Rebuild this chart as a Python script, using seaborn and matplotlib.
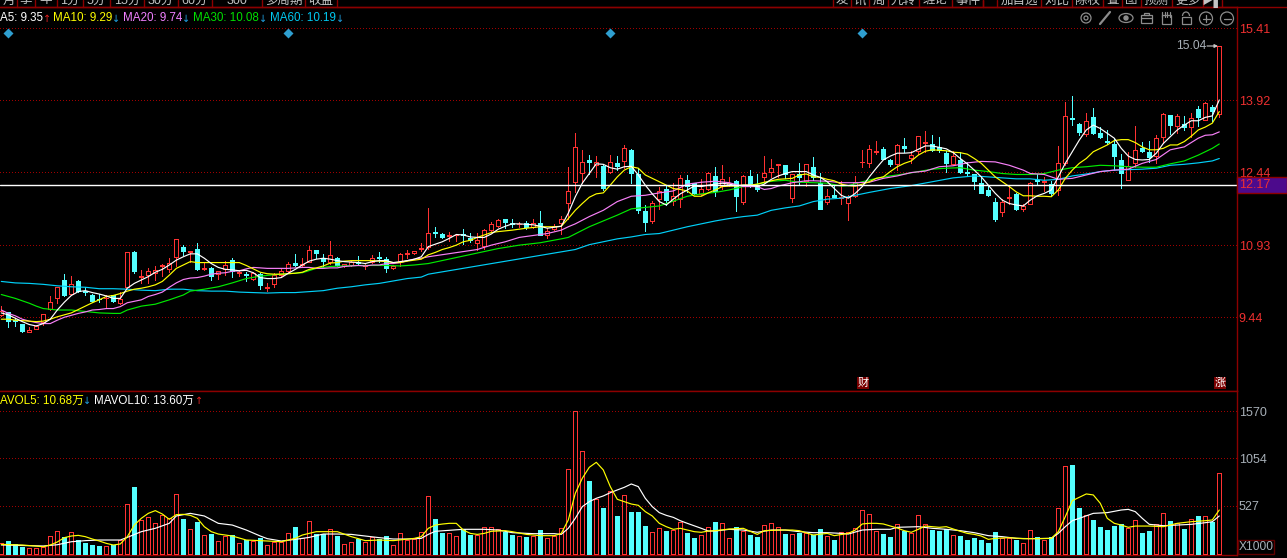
import numpy as np
import matplotlib
matplotlib.use("Agg")
import matplotlib.pyplot as plt
from matplotlib.patches import Rectangle, Circle, Ellipse, Arc
import seaborn as sns

opens = [9.49,9.54,9.37,9.30,9.14,9.20,9.35,9.61,9.83,10.22,
9.93,10.18,9.98,9.90,9.82,9.83,9.89,9.74,10.06,10.79,
10.28,10.31,10.36,10.50,10.43,10.68,10.90,10.79,10.86,10.44,
10.46,10.33,10.43,10.62,10.35,10.33,10.23,10.33,10.04,10.13,
10.31,10.40,10.56,10.52,10.59,10.82,10.67,10.58,10.67,10.50,
10.53,10.57,10.49,10.59,10.67,10.64,10.45,10.60,10.75,10.76,
10.85,10.90,11.19,11.15,11.11,11.13,11.17,11.08,10.98,10.92,
11.24,11.33,11.47,11.38,11.36,11.38,11.31,11.39,11.14,11.26,
11.39,11.81,12.24,12.43,12.68,12.58,12.57,12.45,12.62,12.67,
12.90,12.41,11.63,11.43,11.89,12.09,11.85,11.89,12.27,12.21,
11.99,12.10,12.36,12.15,12.17,12.25,11.83,12.36,12.16,12.34,
12.44,12.58,12.58,11.91,12.40,12.26,12.54,12.21,11.83,11.96,
11.90,11.81,11.95,12.64,12.63,12.85,12.92,12.69,12.60,12.97,
12.74,12.87,13.04,13.01,12.95,12.83,12.60,12.69,12.44,12.39,
12.22,12.07,11.83,11.61,11.90,11.99,11.67,11.79,12.27,12.24,
12.19,12.07,12.62,13.55,13.43,13.23,13.57,13.24,13.09,13.03,
12.69,12.28,12.63,12.94,12.85,12.77,13.16,13.61,13.40,13.44,
13.37,13.74,13.52,13.78,13.63]
closes = [9.57,9.37,9.36,9.16,9.18,9.26,9.50,9.75,10.07,9.90,
10.12,9.98,9.96,9.78,9.81,9.84,9.78,9.81,10.78,10.40,
10.29,10.40,10.42,10.51,10.57,11.05,10.81,10.80,10.44,10.45,
10.30,10.39,10.51,10.39,10.38,10.32,10.35,10.11,10.06,10.31,
10.39,10.55,10.53,10.54,10.84,10.77,10.61,10.72,10.52,10.54,
10.58,10.56,10.50,10.67,10.66,10.46,10.50,10.75,10.76,10.80,
10.88,11.19,11.18,11.10,11.13,11.14,11.13,11.03,11.03,11.24,
11.36,11.45,11.41,11.37,11.37,11.30,11.38,11.13,11.23,11.32,
11.46,12.05,12.95,12.65,12.65,12.64,12.12,12.64,12.57,12.93,
12.43,11.65,11.41,11.81,12.05,11.86,11.94,12.31,12.16,12.01,
12.10,12.43,12.05,12.29,12.21,11.94,12.36,12.17,12.09,12.43,
12.52,12.60,12.39,12.39,12.33,12.60,12.33,11.68,11.94,11.92,
11.92,11.92,12.24,12.65,12.91,12.87,12.71,12.61,12.99,12.94,
12.80,13.18,13.05,12.90,12.90,12.63,12.78,12.45,12.43,12.26,
12.01,11.97,11.47,11.83,11.92,11.67,11.74,12.22,12.26,12.25,
12.01,12.62,13.59,13.54,13.27,13.49,13.25,13.17,13.07,12.77,
12.43,12.56,12.89,12.88,12.75,13.14,13.63,13.42,13.59,13.38,
13.55,13.58,13.86,13.70,15.04]
highs = [9.67,9.55,9.42,9.31,9.24,9.28,9.50,9.88,10.07,10.33,
10.29,10.21,10.07,9.93,9.93,9.90,9.90,9.97,10.78,10.81,
10.42,10.45,10.50,10.55,10.66,11.05,10.93,10.80,10.97,10.59,
10.47,10.40,10.60,10.66,10.40,10.38,10.38,10.35,10.14,10.35,
10.43,10.59,10.75,10.66,10.91,10.84,10.75,11.02,10.69,10.55,
10.61,10.71,10.55,10.73,10.78,10.68,10.53,10.76,10.82,10.81,
10.97,11.69,11.30,11.19,11.21,11.14,11.26,11.19,11.19,11.26,
11.41,11.46,11.48,11.47,11.41,11.43,11.48,11.63,11.28,11.37,
11.53,12.55,13.24,12.90,12.79,12.77,12.59,12.79,12.77,13.00,
12.91,12.52,11.76,11.84,12.14,12.16,12.21,12.38,12.38,12.22,
12.29,12.45,12.55,12.59,12.33,12.27,12.38,12.48,12.40,12.77,
12.71,12.60,12.58,12.41,12.63,12.60,12.76,12.43,12.10,12.17,
12.26,11.96,12.36,12.90,13.00,13.08,12.95,12.72,13.01,13.14,
12.88,13.19,13.29,13.20,13.17,12.88,12.88,12.86,12.65,12.41,
12.36,12.17,11.90,11.88,12.17,12.01,11.78,12.24,12.41,12.34,
12.26,12.98,13.89,14.02,13.45,13.67,13.76,13.38,13.31,13.14,
12.81,12.86,13.39,13.07,13.08,13.20,13.65,13.61,13.64,13.60,
13.65,13.80,13.88,13.82,15.04]
lows = [9.47,9.24,9.26,9.14,9.14,9.19,9.28,9.59,9.74,9.87,
9.90,9.96,9.90,9.76,9.76,9.64,9.76,9.71,10.06,10.36,
10.15,10.15,10.22,10.29,10.38,10.49,10.73,10.59,10.42,10.42,
10.20,10.23,10.31,10.28,10.30,10.18,10.20,10.02,9.98,10.07,
10.28,10.38,10.50,10.49,10.59,10.66,10.50,10.55,10.50,10.47,
10.50,10.52,10.43,10.57,10.58,10.38,10.44,10.50,10.66,10.74,
10.80,10.85,11.09,11.08,11.02,11.02,10.95,11.00,10.83,10.86,
11.21,11.31,11.28,11.30,11.31,11.26,11.28,11.13,11.07,11.24,
11.16,11.48,12.03,12.22,12.41,12.34,12.07,12.43,12.48,12.52,
12.21,11.59,11.22,11.38,11.67,11.76,11.75,11.72,12.03,11.99,
11.96,12.07,11.94,12.10,12.15,11.64,11.79,12.14,12.05,12.21,
12.34,12.34,12.31,11.83,12.17,12.16,12.27,11.68,11.79,11.92,
11.79,11.45,11.93,12.55,12.55,12.81,12.70,12.57,12.48,12.85,
12.62,12.82,12.86,12.88,12.86,12.45,12.58,12.43,12.38,12.08,
12.00,11.95,11.43,11.54,11.79,11.65,11.64,11.78,12.19,12.05,
11.95,11.96,12.58,13.41,13.20,13.18,13.23,13.14,13.03,12.48,
12.12,12.27,12.54,12.85,12.65,12.62,13.05,13.23,13.24,13.31,
13.17,13.39,13.52,13.50,13.57]
volumes = [114,140,103,74,59,59,70,195,247,184,
236,151,118,96,85,81,96,155,545,736,
372,405,335,427,397,655,383,269,350,202,
217,136,195,202,114,155,136,173,92,132,
132,224,294,169,357,217,213,269,195,103,
125,162,125,184,166,195,96,224,155,158,
236,633,383,228,224,191,272,210,202,291,
291,269,236,206,195,184,195,261,169,195,
283,931,1571,1130,802,604,504,688,416,644,
460,460,305,236,280,250,261,350,228,173,
202,291,350,335,169,294,247,206,184,313,
335,291,217,213,228,224,206,272,191,151,
236,236,280,478,434,247,217,184,324,250,
224,423,324,261,250,269,202,195,151,173,
151,118,239,169,169,151,114,258,184,147,
184,500,964,979,504,423,372,294,261,305,
328,283,368,228,250,324,445,361,335,272,
379,416,412,350,887]

ma5_vals = [9.53,9.49,9.42,9.35,9.29,9.26,9.31,9.40,9.59,9.75,
9.89,9.97,9.99,9.95,9.92,9.88,9.83,9.83,10.04,10.14,
10.21,10.28,10.37,10.43,10.52,10.62,10.69,10.75,10.75,10.66,
10.55,10.47,10.43,10.42,10.40,10.41,10.36,10.26,10.24,10.24,
10.26,10.35,10.43,10.52,10.60,10.64,10.66,10.64,10.61,10.59,
10.58,10.57,10.55,10.59,10.61,10.61,10.57,10.59,10.61,10.64,
10.69,10.90,10.95,11.00,11.07,11.15,11.14,11.10,11.09,11.09,
11.16,11.26,11.32,11.37,11.37,11.36,11.35,11.32,11.28,11.30,
11.32,11.59,11.93,12.21,12.41,12.61,12.60,12.53,12.50,12.55,
12.56,12.38,12.17,11.99,11.83,11.76,11.88,11.99,12.07,12.15,
12.14,12.17,12.19,12.21,12.19,12.16,12.17,12.17,12.14,12.19,
12.29,12.36,12.41,12.45,12.45,12.45,12.38,12.33,12.24,12.10,
11.96,11.90,12.00,12.14,12.34,12.52,12.69,12.77,12.83,12.83,
12.84,12.91,12.98,12.98,12.95,12.92,12.84,12.72,12.61,12.48,
12.34,12.17,12.00,11.86,11.79,11.76,11.74,11.86,11.95,12.00,
12.07,12.34,12.62,12.86,13.10,13.31,13.41,13.34,13.24,13.14,
12.93,12.77,12.70,12.69,12.70,12.83,13.03,13.17,13.31,13.41,
13.50,13.50,13.57,13.60,13.93]
ma5_days = list(range(len(ma5_vals)))

ma10_days = list(range(0,72)) + [73,75,77] + list(range(79,134)) + list(range(135,175))
ma10_vals = [9.40,9.40,9.38,9.37,9.36,9.35,9.36,9.40,9.45,9.49,
9.53,9.60,9.67,9.74,9.80,9.87,9.89,9.93,9.98,10.02,
10.04,10.07,10.11,10.18,10.31,10.45,10.52,10.59,10.57,10.57,
10.57,10.57,10.57,10.57,10.57,10.51,10.44,10.37,10.34,10.33,
10.33,10.34,10.35,10.37,10.43,10.46,10.50,10.56,10.57,10.60,
10.61,10.61,10.61,10.61,10.60,10.59,10.57,10.57,10.60,10.62,
10.64,10.73,10.78,10.84,10.88,10.93,11.00,11.03,11.09,11.14,
11.19,11.21,11.24,11.28,11.31,
11.31,11.32,11.48,11.65,11.79,11.92,11.99,12.01,12.17,12.34,12.48,
12.55,12.52,12.38,12.31,12.24,12.17,12.10,12.08,12.05,11.94,
11.94,12.01,12.07,12.14,12.15,12.15,12.17,12.17,12.19,12.23,
12.26,12.29,12.30,12.31,12.38,12.40,12.34,12.33,12.29,12.26,
12.19,12.16,12.15,12.19,12.24,12.31,12.34,12.45,12.55,12.62,
12.67,12.79,12.87,12.90,
12.88,12.85,12.84,12.81,12.72,12.62,12.48,12.34,12.24,12.14,
12.03,11.95,11.95,11.94,11.94,11.93,12.07,12.31,12.48,12.62,
12.72,12.86,12.93,13.00,13.09,13.11,13.11,13.05,12.96,12.90,
12.90,12.93,13.00,13.00,13.07,13.18,13.31,13.37,13.45,13.69]

ma20_days = [0,1,2,3,4,5,6,7,8,9,10,11,12,13,14,15,16,17,18,19,20,21,22,23,24,25,26,27,28,29,30,31,32,33,34,35,36,37,38,40,41,42,43,44,45,46,47,48,49,50,51,52,53,54,55,56,57,58,59,60,61,
68,70,72,74,76,78,80,81,82,84,86,88,90,92,94,96,98,100,102,104,106,108,109,110,111,113,115,116,118,120,
122,124,126,128,130,132,134,136,138,140,142,144,146,147,149,151,153,155,157,159,161,163,165,167,169,171,172,173,174]
ma20_vals = [9.59,9.52,9.47,9.40,9.36,9.33,9.31,9.31,9.38,9.44,9.48,9.52,9.55,9.59,9.60,9.62,9.62,9.66,9.74,9.77,9.80,9.87,9.91,9.96,10.06,10.15,10.22,10.25,10.26,10.29,10.33,10.35,10.36,10.39,10.40,10.44,10.47,10.46,10.45,10.45,10.45,10.46,10.47,10.47,10.45,10.45,10.46,10.46,10.49,10.50,10.51,10.50,10.52,10.52,10.55,10.55,10.57,10.61,10.64,10.66,10.69,
10.84,10.93,11.00,11.09,11.13,11.17,11.24,11.31,11.37,11.52,11.65,11.83,11.94,11.96,12.01,12.05,12.19,12.23,12.25,12.22,12.14,12.14,12.08,12.10,12.15,12.22,12.26,12.26,12.25,12.22,
12.22,12.23,12.31,12.36,12.43,12.46,12.55,12.57,12.63,12.66,12.65,12.58,12.48,12.41,12.39,12.29,12.31,12.38,12.45,12.48,12.50,12.62,12.70,12.90,12.96,13.14,13.20,13.21,13.27]

ma30_days = [0,2,4,5,6,8,10,12,14,16,17,18,20,22,24,26,27,29,31,33,35,37,39,41,43,45,47,49,51,53,55,57,59,61,
71,74,77,80,81,84,86,88,90,92,94,96,98,100,102,104,106,108,110,112,114,116,118,120,121,
123,125,127,129,131,133,135,137,139,141,143,145,147,149,151,153,155,157,159,161,163,165,167,169,171,173,174]
ma30_vals = [9.91,9.83,9.73,9.67,9.62,9.59,9.59,9.56,9.53,9.52,9.52,9.59,9.67,9.71,9.80,9.90,9.98,10.02,10.07,10.15,10.24,10.29,10.32,10.34,10.36,10.45,10.49,10.50,10.51,10.51,10.51,10.50,10.52,10.55,
10.86,10.93,10.98,11.06,11.09,11.31,11.43,11.55,11.68,11.71,11.74,11.84,11.94,11.99,12.02,12.07,12.14,12.19,12.25,12.27,12.23,12.22,12.21,12.15,12.16,
12.24,12.31,12.36,12.40,12.45,12.50,12.52,12.53,12.48,12.45,12.41,12.39,12.39,12.41,12.48,12.53,12.55,12.58,12.57,12.55,12.54,12.54,12.61,12.67,12.79,12.93,13.02]

ma60_days = [0,2,4,6,8,10,12,14,16,18,20,22,24,26,28,30,32,34,36,38,40,42,44,46,48,50,52,54,56,58,60,61,
82,84,86,88,90,92,94,96,98,100,102,104,106,108,110,112,114,116,118,120,121,
124,127,130,133,136,139,142,145,147,149,151,153,155,157,159,161,163,165,167,169,171,173,174]
ma60_vals = [10.18,10.15,10.14,10.12,10.09,10.07,10.06,10.03,10.03,10.02,10.00,9.99,10.02,10.02,9.99,9.98,9.98,9.96,9.95,9.94,9.95,9.95,9.97,9.99,10.04,10.07,10.11,10.14,10.19,10.24,10.27,10.33,
10.84,10.94,11.00,11.06,11.10,11.15,11.17,11.24,11.31,11.37,11.43,11.48,11.52,11.55,11.65,11.70,11.74,11.83,11.88,11.90,11.93,
12.02,12.10,12.16,12.24,12.32,12.36,12.33,12.30,12.30,12.27,12.29,12.36,12.40,12.45,12.48,12.49,12.50,12.52,12.58,12.60,12.63,12.67,12.72]

mavol5_days = [0,3,6,7,8,9,10,11,12,13,14,15,16,17,18,19,20,21,22,23,24,25,26,27,28,29,30,31,33,35,37,40,42,43,45,48,50,52,54,56,59,60,61,
62,63,64,65,66,67,68,69,70,72,73,75,77,79,80,81,82,83,84,85,86,87,88,89,90,91,92,93,94,95,96,97,98,99,100,101,102,104,106,108,109,111,113,114,116,118,119,121,
122,123,124,125,126,127,128,129,130,131,132,133,134,135,136,137,138,139,140,141,142,144,146,148,150,151,152,153,154,155,156,157,158,159,160,161,162,164,166,168,170,172,173,174]
mavol5_vals = [103,96,77,96,129,177,195,202,188,162,140,114,96,107,188,316,390,445,475,438,379,431,434,423,390,298,243,217,195,151,144,132,169,206,243,243,188,144,151,144,169,188,280,
316,327,335,335,261,224,213,224,247,254,243,213,199,199,224,372,666,832,953,1008,924,740,600,574,548,534,464,416,335,298,269,280,261,243,236,250,254,272,280,213,254,261,261,254,206,224,199,224,
261,328,335,335,328,305,283,254,236,269,305,298,291,298,272,247,224,213,195,158,169,177,166,166,169,243,408,585,622,659,648,556,390,335,316,291,305,305,298,335,353,364,372,482]

mavol10_days = [0,6,8,10,12,14,17,18,20,22,24,25,27,29,31,33,35,37,38,40,42,44,46,48,50,52,54,56,58,60,61,
62,64,66,69,71,73,76,79,80,81,82,83,84,85,86,87,88,89,90,91,92,93,94,95,96,97,98,100,101,102,104,106,108,110,112,114,116,118,120,121,
123,125,127,128,131,133,135,137,139,141,143,145,147,150,151,152,153,154,156,158,160,161,162,163,164,166,168,170,172,173,174]
mavol10_vals = [96,85,99,132,144,151,151,180,243,280,335,416,445,416,335,316,261,195,166,140,158,180,217,217,213,195,177,162,162,169,213,
247,258,269,269,261,232,221,221,213,280,390,519,574,611,637,673,703,732,769,740,611,519,453,423,401,364,335,280,250,250,269,261,236,261,261,243,232,232,224,217,
261,269,269,291,298,280,269,254,232,199,188,169,166,169,224,298,364,390,445,453,482,489,464,390,324,309,316,324,342,353,416]

price_ticks = [15.41, 13.92, 12.44, 10.93, 9.44]
volume_ticks = [527, 1054, 1570]
last_price = 12.17
high_label_value = 15.04
event_days = [1, 41, 87, 123]

W, H = 1287, 558
RED = "#ff3232"
CYAN = "#54ffff"
AXIS_RED = "#8c0000"
GRID_RED = "#a00000"
GREY = "#a8b0b8"

sns.set_theme(style="dark", rc={"figure.facecolor": "black", "axes.facecolor": "black",
                                "savefig.facecolor": "black", "axes.grid": False})
FAM = ["Liberation Sans", "Noto Sans CJK SC", "DejaVu Sans"]
plt.rcParams["font.family"] = FAM

fig = plt.figure(figsize=(W/100, H/100), dpi=100, facecolor="black")

def axes_px(left, top, right, bottom):
    return fig.add_axes([left/W, 1-bottom/H, (right-left)/W, (bottom-top)/H])

ax = axes_px(0, 7.3, 1236.5, 390.5)
axv = axes_px(0, 390.5, 1236.5, 554.5)
px = 0.72
days = np.arange(len(opens))
o, c, h, l, v = map(np.array, (opens, closes, highs, lows, volumes))
up = c >= o

for a in (ax, axv):
    a.set_facecolor("black")
    a.set_xlim(-0.186, 176.46)
    a.set_xticks([])
    for s in a.spines.values():
        s.set_color(AXIS_RED)
        s.set_linewidth(1.0)
    a.spines["left"].set_visible(False)
    a.yaxis.tick_right()
    a.tick_params(axis="y", length=0, pad=1.5, labelsize=9)

ax.set_ylim(7.927, 15.844)
axv.set_ylim(-8.8, 1800)
ax.set_yticks(price_ticks, [f"{t:.2f}" for t in price_ticks], color="#f03030")
axv.set_yticks(volume_ticks, [str(t) for t in volume_ticks], color=GREY)

for t in price_ticks:
    ax.axhline(t, color=GRID_RED, lw=px, ls=(0, (1, 2.2)), zorder=1, antialiased=False)
for t in volume_ticks:
    axv.axhline(t, color=GRID_RED, lw=px, ls=(0, (1, 2.2)), zorder=1, antialiased=False)

# candlesticks
for mask, col, face in ((up, RED, "black"), (~up, CYAN, CYAN)):
    ax.vlines(days[mask], l[mask], h[mask], color=col, lw=px, zorder=2, antialiased=False)
    ax.bar(days[mask], np.maximum(np.abs(c-o)[mask], 0.015), bottom=np.minimum(o, c)[mask],
           width=4.2/7, facecolor=face, edgecolor=col, linewidth=px, zorder=3, antialiased=False)
    axv.bar(days[mask], v[mask], width=4.2/7, facecolor=face, edgecolor=col, linewidth=px,
            zorder=3, antialiased=False)

# moving averages
ma_series = [(ma60_days, ma60_vals, "#00d0f8"), (ma30_days, ma30_vals, "#00ea00"),
             (ma20_days, ma20_vals, "#f880f8"), (ma10_days, ma10_vals, "#ffff00"),
             (ma5_days, ma5_vals, "#ffffff")]
for dd, vals, col in ma_series:
    sns.lineplot(x=dd, y=vals, color=col, linewidth=0.85, ax=ax, legend=False,
                 estimator=None, sort=False, zorder=4)
for dd, vals, col in ((mavol10_days, mavol10_vals, "#ffffff"), (mavol5_days, mavol5_vals, "#ffff00")):
    sns.lineplot(x=dd, y=vals, color=col, linewidth=0.85, ax=axv, legend=False,
                 estimator=None, sort=False, zorder=4)
ax.set_xlabel(""); ax.set_ylabel(""); axv.set_xlabel(""); axv.set_ylabel("")
ax.set_xlim(-0.186, 176.46); axv.set_xlim(-0.186, 176.46)
ax.set_ylim(7.927, 15.844); axv.set_ylim(-8.8, 1800)

ax.axhline(last_price, color="white", lw=1.0, zorder=5)
ax.plot(event_days, [15.31]*len(event_days), ls="none", marker="D", ms=5, color="#2f9fd0",
        mec="none", zorder=6)

# chrome overlay in pixels
ov = fig.add_axes([0, 0, 1, 1], zorder=10)
ov.set_xlim(0, W); ov.set_ylim(H, 0); ov.axis("off"); ov.patch.set_alpha(0)

TAB = "#c4c4c4"
ov.plot([0, W], [7.3, 7.3], color=AXIS_RED, lw=1.0)
left_tabs = [(0,17,"月"),(17,35,"季"),(35,57,"年"),(57,83,"1分"),(83,110,"5分"),(110,144,"15分"),
             (144,178,"30分"),(178,212,"60分"),(212,262,"300"),(262,305,"多周期"),(305,337,"收益")]
right_tabs = [(833,851,"发"),(851,869,"讯"),(869,888,"周"),(888,919,"九转"),(919,952,"缠论"),(952,983,"事件"),
              (997,1041,"加自选"),(1041,1072,"对比"),(1072,1103,"除权"),(1103,1122,"叠"),(1122,1141,"图"),
              (1141,1172,"预测"),(1172,1203,"更多"),(1203,1222,"▶▌")]
for a0, a1, s in left_tabs + right_tabs:
    ov.text((a0+a1)/2, 0.5, s, color=TAB, fontsize=9, ha="center", va="center", family=FAM, clip_on=True)
    ov.plot([a1, a1], [0, 7.3], color=AXIS_RED, lw=1.0)
for a0 in (833, 983, 997):
    ov.plot([a0, a0], [0, 7.3], color=AXIS_RED, lw=1.0)

def legend_row(y, items):
    for x, s, col in items:
        ov.text(x, y, s, color=col, fontsize=8.4, ha="left", va="center", family=FAM)

def arrows(y, items):
    for x, s, col in items:
        ov.text(x, y, s, color=col, fontsize=7, ha="center", va="center", family=["DejaVu Sans"])

UP_C, DN_C = "#e02020", "#20a0e0"
legend_row(18, [(0,"A5: 9.35","#ffffff"),(53,"MA10: 9.29","#ffff00"),
                (123,"MA20: 9.74","#f080ff"),(193,"MA30: 10.08","#00e000"),
                (270,"MA60: 10.19","#00c8f0")])
arrows(18.5, [(47,"↑",UP_C),(116.5,"↓",DN_C),(186.5,"↓",DN_C),(263.5,"↓",DN_C),(340.5,"↓",DN_C)])
legend_row(400.5, [(0,"AVOL5: 10.68万","#ffff00"),(94,"MAVOL10: 13.60万","#ffffff")])
arrows(401, [(87.5,"↓",DN_C),(199.5,"↑",UP_C)])

# toolbar icons
IC = "#8c8c8c"
ik = dict(color=IC, lw=0.9, fill=False)
ov.add_patch(Circle((1086,18), 5, **ik)); ov.add_patch(Circle((1086,18), 2, **ik))
ov.plot([1100,1110],[24,12], color=IC, lw=1.6)
ov.add_patch(Ellipse((1126,18), 14, 9, **ik)); ov.add_patch(Circle((1126,18), 2, color=IC))
ov.add_patch(Rectangle((1140.5,15),11,8, **ik)); ov.add_patch(Rectangle((1143.5,12.5),5,2.5, **ik))
ov.plot([1140.5,1151.5],[18,18], color=IC, lw=0.9)
ov.add_patch(Rectangle((1161.5,15),9,9, **ik))
for xx in (1162,1164.5,1167,1169.5):
    ov.plot([xx,xx],[12,17], color=IC, lw=0.9)
ov.add_patch(Rectangle((1181.5,17),9,6.5, **ik))
ov.add_patch(Arc((1186,16),7,8,theta1=180,theta2=360,color=IC,lw=0.9))
for xx in (1206,1227):
    ov.add_patch(Circle((xx,18.5), 6.5, **ik))
    ov.plot([xx-3.5,xx+3.5],[18.5,18.5], color=IC, lw=0.9)
ov.plot([1206,1206],[15,22], color=IC, lw=0.9)

# last price box
ov.add_patch(Rectangle((1236.5,176.5),50.5,16, facecolor="#4c0a8c", edgecolor=AXIS_RED, lw=1.0, zorder=5))
ov.text(1239,185,"12.17",color="#f03030",fontsize=9,ha="left",va="center",zorder=6)

# high label
ov.text(1176,46,f"{high_label_value:.2f}",color=GREY,fontsize=8.64,ha="left",va="center")
ov.annotate("",xy=(1218,46),xytext=(1207,46),arrowprops=dict(arrowstyle="-|>",color="#c8c8c8",lw=0.8,mutation_scale=5,shrinkA=0,shrinkB=0))

# markers
for cx, s in ((863,"财"),(1220,"涨")):
    ov.add_patch(Rectangle((cx-6,376.5),12,12.5,facecolor="#7a0000",edgecolor="none",zorder=5))
    ov.text(cx,382.7,s,color="white",fontsize=8,ha="center",va="center",family=FAM,zorder=6)

ov.add_patch(Rectangle((1237.5,539.5),36,14,facecolor="black",edgecolor="#600000",lw=1.0))
ov.text(1239,546.5,"X1000",color=GREY,fontsize=8.64,ha="left",va="center")

fig.savefig("out.png", dpi=100, facecolor="black")
